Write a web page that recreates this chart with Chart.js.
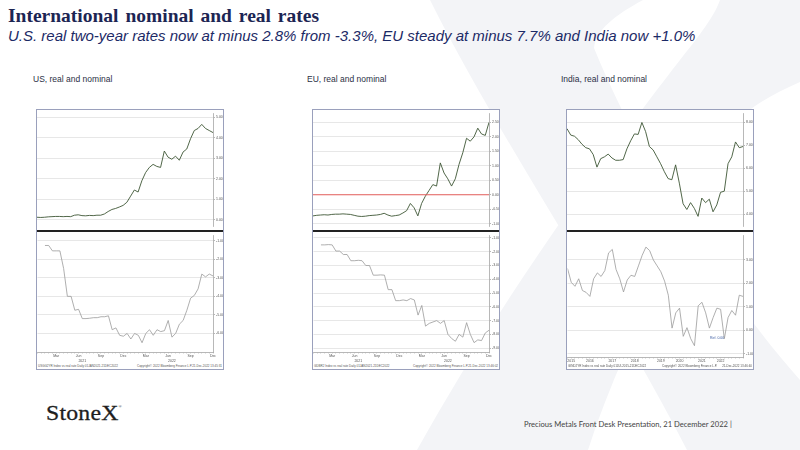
<!DOCTYPE html>
<html>
<head>
<meta charset="utf-8">
<script src="https://cdn.jsdelivr.net/npm/chart.js@4.4.0/dist/chart.umd.min.js"></script>
<style>
  html, body { margin: 0; padding: 0; }
  body { width: 800px; height: 450px; position: relative; overflow: hidden; background: #fff; font-family: "Liberation Sans", Arial, sans-serif; }
  #mark { position: absolute; left: 0; top: 0; }
  .title { position: absolute; left: 8px; top: 5px; font-family: "Liberation Serif", serif; font-weight: bold; font-size: 19.5px; color: #1c2553; word-spacing: 2px; }
  .sub { position: absolute; left: 8px; top: 27px; font-style: italic; font-size: 15px; color: #1c2a66; }
  .ctitle { position: absolute; top: 74px; font-size: 8.5px; color: #2a2f45; }
  .box { position: absolute; top: 109px; width: 186px; height: 259px; border: 1px solid #9aa0bc; background: #fff; }
  .box canvas { display: block; }
  .div { height: 2px; background: #222; }
  .foot { height: 6px; font-size: 3px; color: #555; position: relative; white-space: nowrap; }
  .foot span { position: absolute; top: 1px; }
  .note { position: absolute; font-size: 3.5px; color: #3a5aa0; }
  .logo { position: absolute; left: 46px; top: 400px; font-family: "Liberation Serif", serif; font-size: 22px; color: #1e1e1e; letter-spacing: 0.2px; transform: scaleX(1.08); transform-origin: left; -webkit-text-stroke: 0.3px #1e1e1e; }
  .logo sup { font-size: 4px; vertical-align: top; position: relative; top: 4px; -webkit-text-stroke: 0; }
  .pres { position: absolute; left: 524px; top: 419px; font-family: Lato, sans-serif; font-size: 7.6px; color: #444; }
</style>
</head>
<body>
<svg id="mark" width="800" height="450">
  <path d="M430,0 L643,0 C615,15 596,30 594,48 C640,160 720,290 800,380 L800,450 L687,450 C610,300 500,140 430,0 Z" fill="#f3f4f7"/>
  <path d="M720,0 L800,0 L800,82 C770,95 745,110 735,125 C680,240 620,350 588,450 L417,450 C500,300 610,150 680,60 C700,35 715,15 720,0 Z" fill="#f3f4f7"/>
</svg>

<div class="title">International nominal and real rates</div>
<div class="sub">U.S. real two-year rates now at minus 2.8% from -3.3%, EU steady at minus 7.7% and India now +1.0%</div>

<div class="ctitle" style="left:33px">US, real and nominal</div>
<div class="ctitle" style="left:307px">EU, real and nominal</div>
<div class="ctitle" style="left:561px">India, real and nominal</div>

<div class="box" style="left:36px">
  <canvas id="usTop" width="186" height="120"></canvas>
  <div class="div"></div>
  <canvas id="usBot" width="186" height="131"></canvas>
  <div class="foot"><span style="left:1px">USGG2YR Index vs real rate Daily 01JAN2021-21DEC2022</span><span style="left:100px">Copyright© 2022 Bloomberg Finance L.P.</span><span style="right:1px">21-Dec-2022 13:45:31</span></div>
</div>

<div class="box" style="left:312px">
  <canvas id="euTop" width="186" height="120"></canvas>
  <div class="div"></div>
  <canvas id="euBot" width="186" height="131"></canvas>
  <div class="foot"><span style="left:1px">GDBR2 Index vs real rate Daily 01JAN2021-21DEC2022</span><span style="left:100px">Copyright© 2022 Bloomberg Finance L.P.</span><span style="right:1px">21-Dec-2022 13:46:02</span></div>
</div>

<div class="box" style="left:566px">
  <canvas id="inTop" width="186" height="120"></canvas>
  <div class="div"></div>
  <canvas id="inBot" width="186" height="131"></canvas>
  <div class="foot"><span style="left:1px">GIND2YR Index vs real rate Daily 01JUL2015-21DEC2022</span><span style="left:95px">Copyright© 2022 Bloomberg Finance L.P.</span><span style="right:1px">21-Dec-2022 13:46:40</span></div>
  <div class="note" style="left:143px;top:226px">Ref. 0.00</div>
</div>

<div class="logo">StoneX<sup>®</sup></div>
<div class="pres">Precious Metals Front Desk Presentation, 21 December 2022 |</div>

<script>
// valeurs, un point toutes les ~2 semaines (US, EU) / ~2 mois (Inde)
const usNominal = [0.12, 0.11, 0.12, 0.14, 0.15, 0.16, 0.16, 0.15, 0.16, 0.15, 0.22, 0.24,
  0.20, 0.19, 0.21, 0.20, 0.22, 0.22, 0.28, 0.40, 0.50, 0.55, 0.62, 0.70,
  0.85, 1.15, 1.45, 1.35, 1.90, 2.30, 2.55, 2.70, 2.60, 2.55, 3.35, 3.05,
  2.95, 3.10, 2.90, 3.30, 3.45, 3.95, 4.35, 4.45, 4.65, 4.45, 4.35, 4.25];
const usReal = [null, null, -1.26, -1.26, -1.55, -1.55, -1.55, -2.5, -4.0, -4.0, -4.75, -4.7,
  -5.2, -5.2, -5.18, -5.15, -5.15, -5.1, -5.1, -5.05, -5.8, -5.7, -6.1, -6.15,
  -6.0, -6.3, -6.0, -6.1, -6.5, -6.0, -5.8, -6.1, -5.8, -5.9, -5.85, -5.3,
  -6.2, -6.0, -5.5, -5.3, -4.75, -4.1, -3.95, -3.6, -2.8, -2.95, -2.8, -2.9];

const euNominal = [-0.73, -0.71, -0.70, -0.69, -0.70, -0.68, -0.67, -0.67, -0.66, -0.67, -0.68, -0.71,
  -0.74, -0.75, -0.74, -0.72, -0.71, -0.70, -0.68, -0.64, -0.70, -0.74, -0.72, -0.70,
  -0.63, -0.55, -0.30, -0.45, -0.73, -0.30, -0.05, 0.15, 0.35, 0.30, 1.10, 0.75,
  0.55, 0.30, 0.55, 1.05, 1.45, 1.95, 1.85, 2.00, 2.30, 2.10, 2.05, 2.50];
const euReal = [null, null, -1.5, -1.5, -1.48, -1.5, -1.95, -1.95, -2.2, -2.2, -2.65, -2.65,
  -2.62, -2.65, -3.0, -3.0, -3.7, -3.7, -3.68, -3.7, -4.75, -4.75, -5.55, -5.55,
  -5.5, -5.55, -5.4, -5.5, -6.6, -5.9, -7.4, -7.2, -7.1, -7.0, -7.2, -7.0,
  -8.0, -8.3, -8.5, -8.0, -8.2, -7.15, -8.0, -8.6, -8.4, -8.45, -7.9, -7.7];
const euRefLevel = 0;

const indiaNominal = [7.73, 7.45, 7.40, 7.25, 7.05, 6.90, 6.85, 6.60, 6.05, 6.42, 6.50, 6.62,
  6.45, 6.35, 6.35, 6.38, 6.85, 7.20, 7.50, 7.48, 8.00, 7.60, 6.95, 6.80,
  6.50, 6.20, 5.85, 5.55, 5.50, 6.15, 5.35, 4.45, 4.20, 4.50, 4.25, 3.90,
  4.70, 4.50, 4.65, 4.10, 4.40, 4.95, 5.00, 6.20, 6.50, 7.15, 6.90, 6.95];
const indiaReal = [2.64, 2.05, 1.88, 2.2, 1.7, 1.62, 1.45, 2.2, 2.45, 2.3, 2.55, 3.3,
  3.45, 2.6, 2.2, 1.64, 2.15, 2.35, 2.3, 2.75, 3.2, 3.55, 3.4, 3.0,
  2.75, 2.5, 2.1, 1.5, 0.1, 0.75, 0.95, -0.25, 0.12, -0.35, -0.65, 1.05,
  1.2, 0.75, 0.1, 0.55, 0.95, 0.9, -0.35, 0.55, 0.85, 0.65, 1.5, 1.45];

// graduations
const usMonthTicks = [5, 11, 17, 23, 29, 35, 41, 47];
const usMonthLabels = ['Mar', 'Jun', 'Sep', 'Dec', 'Mar', 'Jun', 'Sep', 'Dec'];
const usYearTicks = [12, 36];
const usYearLabels = ['2021', '2022'];
const indiaYearTicks = [1, 6, 12, 18, 25, 30, 36, 41];
const indiaYearLabels = ['2015', '2016', '2017', '2018', '2019', '2020', '2021', '2022'];

const usNomTicks = [0, 1, 2, 3, 4, 5];
const usRealTicks = [-1, -2, -3, -4, -5, -6];
const euNomTicks = [2.5, 2, 1.5, 1, 0.5, 0, -0.5, -1];
const euRealTicks = [-1, -2, -3, -4, -5, -6, -7, -8, -9];
const inNomTicks = [8, 7, 6, 5, 4];
const inRealTicks = [3, 2, 1, 0, -1];

const topColor = '#3d5634';
const botColor = '#9a9a9a';

function pts(arr) {
  return arr.map((v, i) => ({ x: i, y: v }));
}

function yAxis(min, max, ticks) {
  return {
    position: 'right', min: min, max: max,
    afterBuildTicks: a => { a.ticks = ticks.map(v => ({ value: v })); },
    afterFit: a => { a.width = 10; },
    grid: { color: '#dcdcdc', lineWidth: 0.7, tickLength: 2, tickColor: '#999' },
    border: { color: '#999', width: 0.7 },
    ticks: { font: { size: 3.5 }, color: '#555', padding: 1, callback: v => v.toFixed(2) }
  };
}

function xAxis(ticks, labels, id) {
  const all = [];
  for (let i = 0; i <= 47; i++) all.push(i);
  const useAll = id === 'x';
  return {
    type: 'linear', position: 'bottom', min: 0, max: 47,
    afterBuildTicks: a => { a.ticks = (useAll ? all : ticks).map(v => ({ value: v })); },
    afterFit: a => { a.height = useAll ? 6 : 5; },
    grid: { drawOnChartArea: false, tickLength: useAll ? 1.5 : 0, color: '#999', lineWidth: 0.5 },
    border: { display: useAll, color: '#999', width: 0.7 },
    ticks: {
      autoSkip: false, maxRotation: 0, padding: 0.5, font: { size: 3.5 }, color: '#555',
      callback: v => { const k = ticks.indexOf(v); return k >= 0 ? labels[k] : ''; }
    }
  };
}

function topChart(id, values, min, max, ticks, extra) {
  const datasets = [{ data: pts(values), borderColor: topColor, borderWidth: 0.9, pointRadius: 0, tension: 0 }];
  if (extra) datasets.unshift(extra);
  new Chart(document.getElementById(id), {
    type: 'line',
    data: { datasets },
    options: {
      responsive: false, animation: false,
      layout: { padding: 0 },
      plugins: { legend: { display: false }, tooltip: { enabled: false } },
      scales: {
        x: { type: 'linear', min: 0, max: 47, display: false },
        y: yAxis(min, max, ticks)
      }
    }
  });
}

function bottomChart(id, values, min, max, ticks, xt, xl, yt, yl) {
  const scales = {
    x: xAxis(xt, xl, 'x'),
    y: yAxis(min, max, ticks)
  };
  if (yt) scales.x2 = xAxis(yt, yl, 'x2');
  new Chart(document.getElementById(id), {
    type: 'line',
    data: { datasets: [{ data: pts(values), borderColor: botColor, borderWidth: 0.8, pointRadius: 0, tension: 0, spanGaps: false }] },
    options: {
      responsive: false, animation: false,
      layout: { padding: 0 },
      plugins: { legend: { display: false }, tooltip: { enabled: false } },
      scales
    }
  });
}

topChart('usTop', usNominal, -0.35, 5.2, usNomTicks);
bottomChart('usBot', usReal, -7.0, -0.7, usRealTicks, usMonthTicks, usMonthLabels, usYearTicks, usYearLabels);

topChart('euTop', euNominal, -1.11, 2.82, euNomTicks, {
  data: [{ x: 0, y: euRefLevel }, { x: 47, y: euRefLevel }],
  borderColor: '#e8625f', borderWidth: 1, pointRadius: 0
});
bottomChart('euBot', euReal, -9.28, -0.79, euRealTicks, usMonthTicks, usMonthLabels, usYearTicks, usYearLabels);

topChart('inTop', indiaNominal, 3.44, 8.41, inNomTicks);
bottomChart('inBot', indiaReal, -1.13, 4.06, inRealTicks, indiaYearTicks, indiaYearLabels, null, null);
</script>
</body>
</html>
